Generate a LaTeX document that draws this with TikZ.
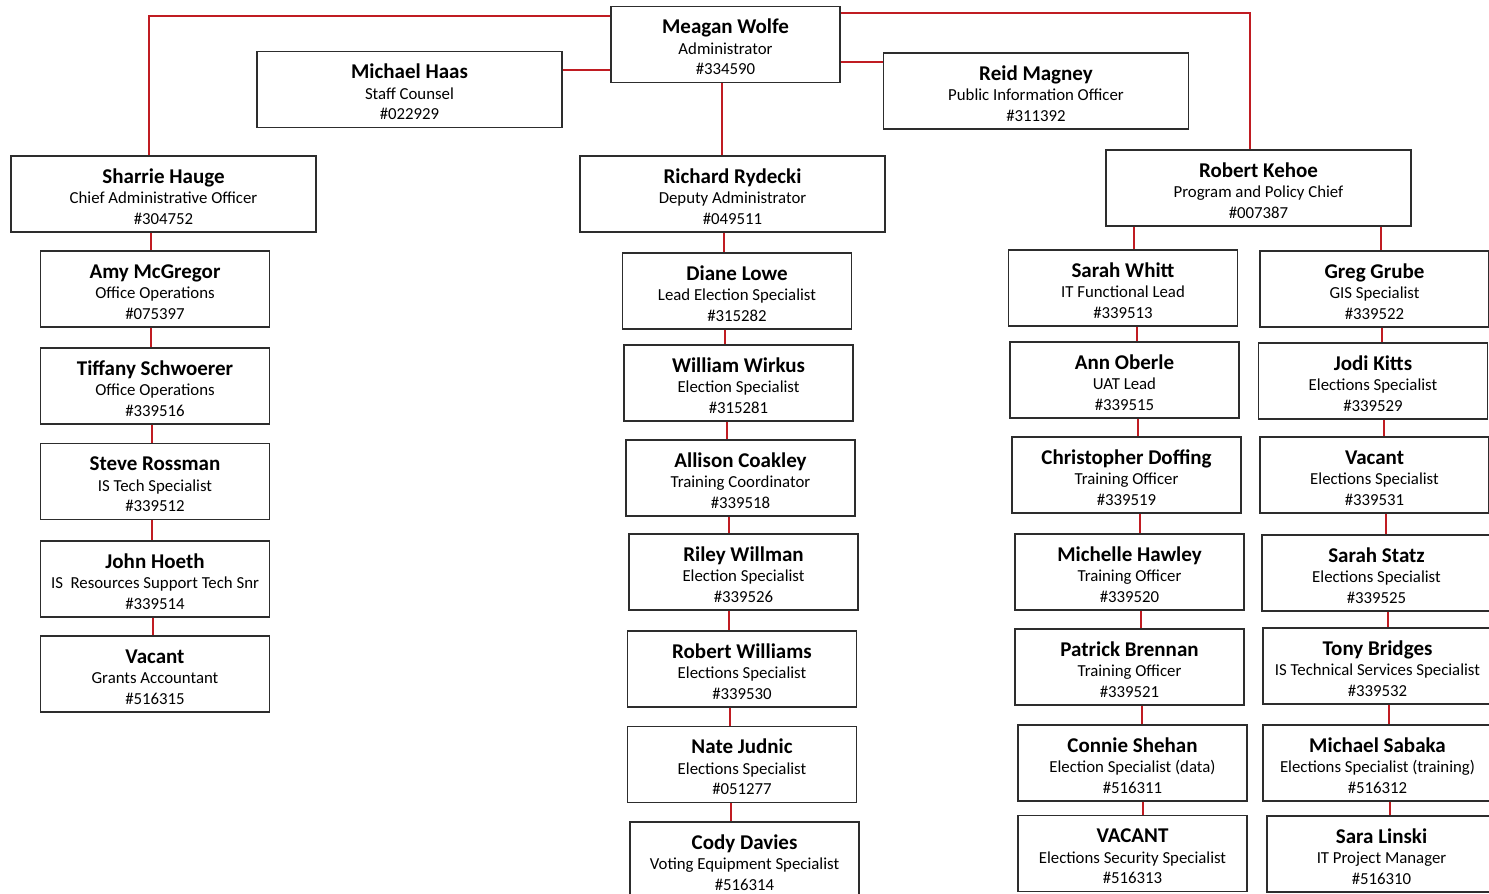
\documentclass[tikz,border=0pt]{standalone}
\usepackage{fontspec}
\setmainfont{Carlito}
\usepackage{tikz}
\usetikzlibrary{positioning}

\definecolor{linkred}{RGB}{192,28,34}
\definecolor{boxgray}{RGB}{45,45,45}

\tikzset{
  person/.style={draw=boxgray, line width=1.3pt, fill=white, align=center,
    inner sep=0pt, minimum width=229pt, minimum height=76pt,
    font=\fontsize{16.8}{20.5}\selectfont},
  chief/.style={person, minimum width=305pt},
  link/.style={draw=linkred, line width=1.8pt},
}
\newcommand{\pname}[1]{{\fontsize{21}{22}\selectfont\bfseries\rule{0pt}{20pt}#1}}

\begin{document}
\begin{tikzpicture}[x=1pt,y=-1pt]
 \useasboundingbox (0,0) rectangle (1489,894);
 % top level
 \node[person] (mw) at (725.5,44.5) {\pname{Meagan Wolfe}\\Administrator\\\#334590};
 \node[chief] (mh) at (409.5,89.5) {\pname{Michael Haas}\\Staff Counsel\\\#022929};
 \node[chief] (rm) at (1036,91) {\pname{Reid Magney}\\Public Information Officer\\\#311392};
 \node[chief] (sh) at (163.5,194) {\pname{Sharrie Hauge}\\Chief Administrative Officer\\\#304752};
 \node[chief] (rr) at (732.5,194) {\pname{Richard Rydecki}\\Deputy Administrator\\\#049511};
 \node[chief] (rk) at (1258.5,188) {\pname{Robert Kehoe}\\Program and Policy Chief\\\#007387};
 % left column
 \node[person] (am) at (155,289) {\pname{Amy McGregor}\\Office Operations\\\#075397};
 \node[person] (ts) at (155,386) {\pname{Tiffany Schwoerer}\\Office Operations\\\#339516};
 \node[person] (sr) at (155,481.5) {\pname{Steve Rossman}\\IS Tech Specialist\\\#339512};
 \node[person] (jh) at (155,579) {\pname{John Hoeth}\\IS\ \ Resources Support Tech Snr\\\#339514};
 \node[person] (va) at (155,674) {\pname{Vacant}\\Grants Accountant\\\#516315};
 % middle column
 \node[person] (dl) at (737,291) {\pname{Diane Lowe}\\Lead Election Specialist\\\#315282};
 \node[person] (ww) at (738.5,383) {\pname{William Wirkus}\\Election Specialist\\\#315281};
 \node[person] (ac) at (740.5,478) {\pname{Allison Coakley}\\Training Coordinator\\\#339518};
 \node[person] (rw) at (743.5,572) {\pname{Riley Willman}\\Election Specialist\\\#339526};
 \node[person] (rbw) at (742,669) {\pname{Robert Williams}\\Elections Specialist\\\#339530};
 \node[person] (nj) at (742,764.5) {\pname{Nate Judnic}\\Elections Specialist\\\#051277};
 \node[person] (cd) at (744.5,860) {\pname{Cody Davies}\\Voting Equipment Specialist\\\#516314};
 % right column, left side
 \node[person] (sw) at (1123,288) {\pname{Sarah Whitt}\\IT Functional Lead\\\#339513};
 \node[person] (ao) at (1124.5,380) {\pname{Ann Oberle}\\UAT Lead\\\#339515};
 \node[person] (cdf) at (1126.5,475) {\pname{Christopher Doffing}\\Training Officer\\\#339519};
 \node[person] (mhw) at (1129.5,572) {\pname{Michelle Hawley}\\Training Officer\\\#339520};
 \node[person] (pb) at (1129.5,667) {\pname{Patrick Brennan}\\Training Officer\\\#339521};
 \node[person] (cs) at (1132.5,763) {\pname{Connie Shehan}\\Election Specialist (data)\\\#516311};
 \node[person] (vc) at (1132.5,853.5) {\pname{VACANT}\\Elections Security Specialist\\\#516313};
 % right column, right side
 \node[person] (gg) at (1374.5,289) {\pname{Greg Grube}\\GIS Specialist\\\#339522};
 \node[person] (jk) at (1373,381) {\pname{Jodi Kitts}\\Elections Specialist\\\#339529};
 \node[person] (vs) at (1374.5,475) {\pname{Vacant}\\Elections Specialist\\\#339531};
 \node[person] (ss) at (1376.5,573) {\pname{Sarah Statz}\\Elections Specialist\\\#339525};
 \node[person] (tb) at (1377.5,666) {\pname{Tony Bridges}\\IS Technical Services Specialist\\\#339532};
 \node[person] (ms) at (1377.5,763) {\pname{Michael Sabaka}\\Elections Specialist (training)\\\#516312};
 \node[person] (sl) at (1381.5,854) {\pname{Sara Linski}\\IT Project Manager\\\#516310};

 % links from the administrator
 \draw[link] ([yshift=-10pt]mw.north west) -| ([xshift=-14.5pt]sh.north);
 \draw[link] ([yshift=-7pt]mw.north east) -| ([xshift=-8.5pt]rk.north);
 \draw[link] ([yshift=19.5pt]mh.east) -- ([yshift=-25.5pt]mw.west);
 \draw[link] ([yshift=-17.5pt]mw.east) -- ([yshift=29pt]rm.west);
 \draw[link] ([xshift=-3.5pt]mw.south) -- ([xshift=-10.5pt]rr.north);
 % left chain
 \draw[link] ([xshift=-12.5pt]sh.south) -- ([xshift=-12.5pt]sh.south |- am.north)
   ([xshift=-4pt]am.south) -- ([xshift=-4pt]am.south |- ts.north)
   ([xshift=-3pt]ts.south) -- ([xshift=-3pt]ts.south |- sr.north)
   ([xshift=-3pt]sr.south) -- ([xshift=-3pt]sr.south |- jh.north)
   ([xshift=-2pt]jh.south) -- ([xshift=-2pt]jh.south |- va.north);
 % middle chain
 \draw[link] ([xshift=-8.5pt]rr.south) -- ([xshift=-8.5pt]rr.south |- dl.north)
   ([xshift=-12pt]dl.south) -- ([xshift=-12pt]dl.south |- ww.north)
   ([xshift=-11.5pt]ww.south) -- ([xshift=-11.5pt]ww.south |- ac.north)
   ([xshift=-11.5pt]ac.south) -- ([xshift=-11.5pt]ac.south |- rw.north)
   ([xshift=-14.5pt]rw.south) -- ([xshift=-14.5pt]rw.south |- rbw.north)
   ([xshift=-12pt]rbw.south) -- ([xshift=-12pt]rbw.south |- nj.north)
   ([xshift=-11pt]nj.south) -- ([xshift=-11pt]nj.south |- cd.north);
 % right chains
 \draw[link] ([xshift=29pt]rk.south west) -- ([xshift=29pt]rk.south west |- sw.north)
   ([xshift=14pt]sw.south) -- ([xshift=14pt]sw.south |- ao.north)
   ([xshift=13.5pt]ao.south) -- ([xshift=13.5pt]ao.south |- cdf.north)
   ([xshift=13.5pt]cdf.south) -- ([xshift=13.5pt]cdf.south |- mhw.north)
   ([xshift=11.5pt]mhw.south) -- ([xshift=11.5pt]mhw.south |- pb.north)
   ([xshift=12.5pt]pb.south) -- ([xshift=12.5pt]pb.south |- cs.north)
   ([xshift=10.5pt]cs.south) -- ([xshift=10.5pt]cs.south |- vc.north);
 \draw[link] ([xshift=-30.5pt]rk.south east) -- ([xshift=-30.5pt]rk.south east |- gg.north)
   ([xshift=7.5pt]gg.south) -- ([xshift=7.5pt]gg.south |- jk.north)
   ([xshift=11pt]jk.south) -- ([xshift=11pt]jk.south |- vs.north)
   ([xshift=11.5pt]vs.south) -- ([xshift=11.5pt]vs.south |- ss.north)
   ([xshift=11.5pt]ss.south) -- ([xshift=11.5pt]ss.south |- tb.north)
   ([xshift=11.5pt]tb.south) -- ([xshift=11.5pt]tb.south |- ms.north)
   ([xshift=12.5pt]ms.south) -- ([xshift=12.5pt]ms.south |- sl.north);
\end{tikzpicture}
\end{document}
